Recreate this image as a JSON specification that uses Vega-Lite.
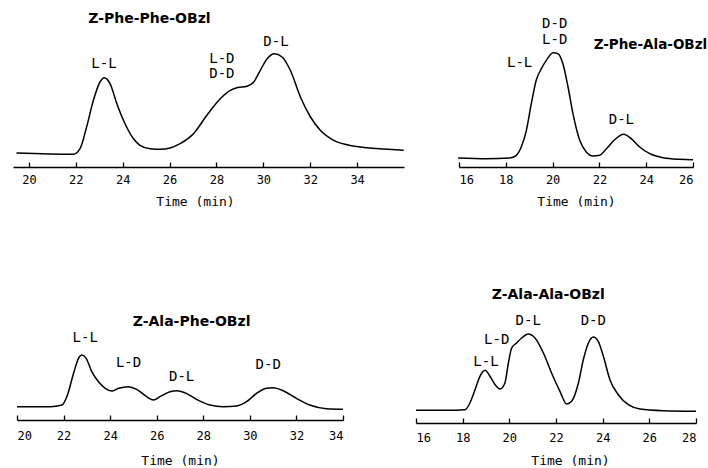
{
  "$schema": "https://vega.github.io/schema/vega-lite/v6.json",
  "background": "white",
  "padding": 0,
  "autosize": {"type": "pad"},
  "config": {
    "view": {"stroke": null},
    "axis": {
      "domainColor": "black", "tickColor": "black", "labelColor": "black", "titleColor": "black",
      "labelFont": "DejaVu Sans Mono", "labelFontSize": 12, "titleFont": "DejaVu Sans Mono", "titleFontSize": 13,
      "titleFontWeight": "normal", "grid": false, "tickSize": -5, "labelPadding": 12, "titlePadding": 10,
      "domainWidth": 1.3, "tickWidth": 1.3
    }
  },
  "datasets": {
    "pp": [
      {"t": 19.47, "h": 14.0}, {"t": 21.89, "h": 12.7}, {"t": 22.18, "h": 18.3}, {"t": 22.46, "h": 40},
      {"t": 22.75, "h": 66.7}, {"t": 23.03, "h": 85}, {"t": 23.22, "h": 89.3}, {"t": 23.46, "h": 83.3},
      {"t": 23.75, "h": 63.3}, {"t": 24.10, "h": 43.3}, {"t": 24.46, "h": 28.3}, {"t": 24.74, "h": 21.7},
      {"t": 25.17, "h": 18.3}, {"t": 25.60, "h": 17.7}, {"t": 26.02, "h": 19}, {"t": 26.45, "h": 23.3},
      {"t": 27.02, "h": 33.3}, {"t": 27.59, "h": 51.7}, {"t": 28.16, "h": 68.3}, {"t": 28.59, "h": 76.7},
      {"t": 28.87, "h": 79.3}, {"t": 29.30, "h": 80.7}, {"t": 29.59, "h": 85}, {"t": 29.87, "h": 96.7},
      {"t": 30.16, "h": 108.3}, {"t": 30.47, "h": 113.3}, {"t": 30.80, "h": 110}, {"t": 31.15, "h": 96.7},
      {"t": 31.58, "h": 70}, {"t": 32.01, "h": 50}, {"t": 32.43, "h": 36.7}, {"t": 33.00, "h": 26.7},
      {"t": 33.57, "h": 22.3}, {"t": 34.43, "h": 19.3}, {"t": 35.14, "h": 18}, {"t": 35.99, "h": 16.7}
    ],
    "pp_labels": [
      {"t": 23.2, "h": 103, "label": "L-L"}, {"t": 28.23, "h": 108, "label": "L-D"},
      {"t": 28.23, "h": 93, "label": "D-D"}, {"t": 30.54, "h": 125, "label": "D-L"}
    ],
    "pp_title": [{"t": 25.14, "h": 148, "label": "Z-Phe-Phe-OBzl"}],
    "pa": [
      {"t": 15.96, "h": 9}, {"t": 17.17, "h": 8.3}, {"t": 18.17, "h": 9}, {"t": 18.45, "h": 11.7},
      {"t": 18.66, "h": 20}, {"t": 18.88, "h": 36.7}, {"t": 19.09, "h": 63.3}, {"t": 19.30, "h": 86.7},
      {"t": 19.52, "h": 98.3}, {"t": 19.73, "h": 106.7}, {"t": 20.02, "h": 114.3}, {"t": 20.23, "h": 113.3},
      {"t": 20.44, "h": 103.3}, {"t": 20.66, "h": 80}, {"t": 20.87, "h": 53.3}, {"t": 21.16, "h": 26.7},
      {"t": 21.44, "h": 15}, {"t": 21.72, "h": 11}, {"t": 22.01, "h": 11.7}, {"t": 22.30, "h": 18.3},
      {"t": 22.65, "h": 27.3}, {"t": 23.04, "h": 32.7}, {"t": 23.36, "h": 28.3}, {"t": 23.72, "h": 20},
      {"t": 24.15, "h": 13.3}, {"t": 24.72, "h": 9.3}, {"t": 25.43, "h": 7.7}, {"t": 26.0, "h": 7.3}
    ],
    "pa_labels": [
      {"t": 20.09, "h": 143, "label": "D-D"}, {"t": 20.09, "h": 127, "label": "L-D"},
      {"t": 18.59, "h": 104, "label": "L-L"}, {"t": 22.94, "h": 47, "label": "D-L"}
    ],
    "pa_title": [{"t": 24.18, "h": 122, "label": "Z-Phe-Ala-OBzl"}],
    "ap": [
      {"t": 20.0, "h": 13.3}, {"t": 21.43, "h": 13.3}, {"t": 21.93, "h": 15}, {"t": 22.14, "h": 23.3},
      {"t": 22.43, "h": 46.7}, {"t": 22.64, "h": 61.7}, {"t": 22.79, "h": 65}, {"t": 22.97, "h": 61.7},
      {"t": 23.21, "h": 48.3}, {"t": 23.5, "h": 38.3}, {"t": 23.79, "h": 31.7}, {"t": 24.07, "h": 29},
      {"t": 24.36, "h": 31.7}, {"t": 24.79, "h": 33.3}, {"t": 25.14, "h": 30.7}, {"t": 25.57, "h": 23.3},
      {"t": 25.86, "h": 20}, {"t": 26.14, "h": 23.3}, {"t": 26.57, "h": 28.3}, {"t": 26.86, "h": 29.3},
      {"t": 27.21, "h": 27.3}, {"t": 27.71, "h": 20.7}, {"t": 28.29, "h": 15}, {"t": 28.86, "h": 13.3},
      {"t": 29.43, "h": 14}, {"t": 29.86, "h": 18.3}, {"t": 30.29, "h": 26.7}, {"t": 30.71, "h": 31.7},
      {"t": 31.0, "h": 32.3}, {"t": 31.43, "h": 29.3}, {"t": 32.0, "h": 21.7}, {"t": 32.57, "h": 15},
      {"t": 33.29, "h": 11.3}, {"t": 34.0, "h": 10.7}
    ],
    "ap_labels": [
      {"t": 22.93, "h": 81.7, "label": "L-L"}, {"t": 24.79, "h": 56.7, "label": "L-D"},
      {"t": 27.07, "h": 43.3, "label": "D-L"}, {"t": 30.79, "h": 55, "label": "D-D"}
    ],
    "ap_title": [{"t": 27.5, "h": 98.3, "label": "Z-Ala-Phe-OBzl"}],
    "aa": [
      {"t": 16.0, "h": 12.7}, {"t": 17.31, "h": 12.7}, {"t": 18.1, "h": 13.3}, {"t": 18.31, "h": 20},
      {"t": 18.53, "h": 33.3}, {"t": 18.74, "h": 46.7}, {"t": 18.96, "h": 52.7}, {"t": 19.17, "h": 46.7},
      {"t": 19.39, "h": 38.3}, {"t": 19.6, "h": 34}, {"t": 19.81, "h": 40}, {"t": 19.96, "h": 60},
      {"t": 20.1, "h": 75}, {"t": 20.31, "h": 80}, {"t": 20.53, "h": 85}, {"t": 20.81, "h": 89},
      {"t": 21.1, "h": 85}, {"t": 21.46, "h": 70}, {"t": 21.81, "h": 50}, {"t": 22.17, "h": 31.7},
      {"t": 22.46, "h": 19}, {"t": 22.67, "h": 21.7}, {"t": 22.96, "h": 40}, {"t": 23.17, "h": 63.3},
      {"t": 23.39, "h": 80}, {"t": 23.6, "h": 86}, {"t": 23.81, "h": 81.7}, {"t": 24.03, "h": 66.7},
      {"t": 24.31, "h": 43.3}, {"t": 24.67, "h": 28.3}, {"t": 25.1, "h": 18.3}, {"t": 25.6, "h": 14},
      {"t": 26.6, "h": 12.3}, {"t": 28.0, "h": 11.7}
    ],
    "aa_labels": [
      {"t": 19.0, "h": 60.7, "label": "L-L"}, {"t": 19.46, "h": 83.3, "label": "L-D"},
      {"t": 20.81, "h": 102.3, "label": "D-L"}, {"t": 23.6, "h": 102.3, "label": "D-D"}
    ],
    "aa_title": [{"t": 21.67, "h": 128.3, "label": "Z-Ala-Ala-OBzl"}]
  },
  "spacing": 52,
  "vconcat": [
    {
      "spacing": 55,
      "bounds": "flush",
      "hconcat": [
        {
          "width": 404, "height": 167,
          "layer": [
            {"data": {"name": "pp"}, "mark": {"type": "line", "color": "black", "strokeWidth": 1.5, "interpolate": "monotone"},
             "encoding": {
               "x": {"field": "t", "type": "quantitative", "scale": {"domain": [19.32, 36], "range": [13, 404], "nice": false, "zero": false},
                     "axis": {"values": [20, 22, 24, 26, 28, 30, 32, 34], "title": "Time (min)", "titleX": 195}},
               "y": {"field": "h", "type": "quantitative", "scale": {"domain": [0, 167], "nice": false}, "axis": null}}},
            {"data": {"name": "pp_labels"}, "mark": {"type": "text", "font": "DejaVu Sans Mono", "fontSize": 14, "color": "black"},
             "encoding": {"x": {"field": "t", "type": "quantitative"}, "y": {"field": "h", "type": "quantitative"}, "text": {"field": "label"}}},
            {"data": {"name": "pp_title"}, "mark": {"type": "text", "font": "DejaVu Sans", "fontWeight": "bold", "fontSize": 14, "color": "black"},
             "encoding": {"x": {"field": "t", "type": "quantitative"}, "y": {"field": "h", "type": "quantitative"}, "text": {"field": "label"}}}
          ]
        },
        {
          "width": 249, "height": 167,
          "layer": [
            {"data": {"name": "pa"}, "mark": {"type": "line", "color": "black", "strokeWidth": 1.5, "interpolate": "monotone"},
             "encoding": {
               "x": {"field": "t", "type": "quantitative", "scale": {"domain": [16, 26], "range": [0, 234], "nice": false, "zero": false},
                     "axis": {"values": [16, 18, 20, 22, 24, 26], "title": "Time (min)"}},
               "y": {"field": "h", "type": "quantitative", "scale": {"domain": [0, 167], "nice": false}, "axis": null}}},
            {"data": {"name": "pa_labels"}, "mark": {"type": "text", "font": "DejaVu Sans Mono", "fontSize": 14, "color": "black"},
             "encoding": {"x": {"field": "t", "type": "quantitative"}, "y": {"field": "h", "type": "quantitative"}, "text": {"field": "label"}}},
            {"data": {"name": "pa_title"}, "mark": {"type": "text", "font": "DejaVu Sans", "fontWeight": "bold", "fontSize": 13.5, "color": "black"},
             "encoding": {"x": {"field": "t", "type": "quantitative"}, "y": {"field": "h", "type": "quantitative"}, "text": {"field": "label"}}}
          ]
        }
      ]
    },
    {
      "spacing": 73,
      "bounds": "flush",
      "hconcat": [
        {
          "width": 343, "height": 160,
          "layer": [
            {"data": {"name": "ap"}, "mark": {"type": "line", "color": "black", "strokeWidth": 1.5, "interpolate": "monotone"},
             "encoding": {
               "x": {"field": "t", "type": "quantitative", "scale": {"domain": [20, 34], "range": [17, 343], "nice": false, "zero": false},
                     "axis": {"values": [20, 22, 24, 26, 28, 30, 32, 34], "title": "Time (min)", "labelPadding": 15, "titlePadding": 13}},
               "y": {"field": "h", "type": "quantitative", "scale": {"domain": [0, 160], "nice": false}, "axis": null}}},
            {"data": {"name": "ap_labels"}, "mark": {"type": "text", "font": "DejaVu Sans Mono", "fontSize": 14, "color": "black"},
             "encoding": {"x": {"field": "t", "type": "quantitative"}, "y": {"field": "h", "type": "quantitative"}, "text": {"field": "label"}}},
            {"data": {"name": "ap_title"}, "mark": {"type": "text", "font": "DejaVu Sans", "fontWeight": "bold", "fontSize": 14, "color": "black"},
             "encoding": {"x": {"field": "t", "type": "quantitative"}, "y": {"field": "h", "type": "quantitative"}, "text": {"field": "label"}}}
          ]
        },
        {
          "width": 292, "height": 163,
          "layer": [
            {"data": {"name": "aa"}, "mark": {"type": "line", "color": "black", "strokeWidth": 1.5, "interpolate": "monotone"},
             "encoding": {
               "x": {"field": "t", "type": "quantitative", "scale": {"domain": [16, 28], "range": [0, 280], "nice": false, "zero": false},
                     "axis": {"values": [16, 18, 20, 22, 24, 26, 28], "title": "Time (min)", "titleX": 154, "labelPadding": 14, "titlePadding": 11}},
               "y": {"field": "h", "type": "quantitative", "scale": {"domain": [0, 163], "nice": false}, "axis": null}}},
            {"data": {"name": "aa_labels"}, "mark": {"type": "text", "font": "DejaVu Sans Mono", "fontSize": 14, "color": "black"},
             "encoding": {"x": {"field": "t", "type": "quantitative"}, "y": {"field": "h", "type": "quantitative"}, "text": {"field": "label"}}},
            {"data": {"name": "aa_title"}, "mark": {"type": "text", "font": "DejaVu Sans", "fontWeight": "bold", "fontSize": 14, "color": "black"},
             "encoding": {"x": {"field": "t", "type": "quantitative"}, "y": {"field": "h", "type": "quantitative"}, "text": {"field": "label"}}}
          ]
        }
      ]
    }
  ]
}
